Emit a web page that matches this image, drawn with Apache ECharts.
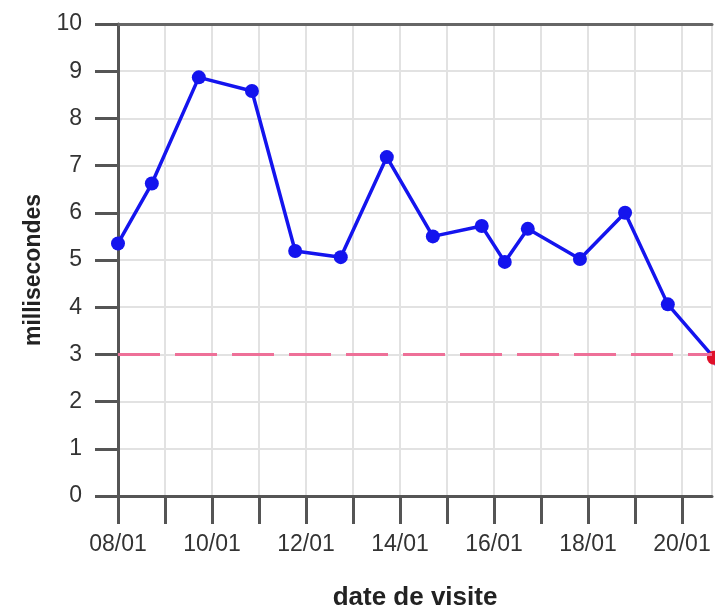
<!DOCTYPE html>
<html>
<head>
<meta charset="utf-8">
<script src="https://cdn.jsdelivr.net/npm/echarts@6/dist/echarts.min.js"></script>
<style>
html,body{margin:0;padding:0;background:#fff;overflow:hidden;}
#chart{width:715px;height:616px;}
</style>
</head>
<body>
<div id="chart"></div>
<script>
// Day labels (day offset 0 = 08/01)
const dayLabels = ["08/01","09/01","10/01","11/01","12/01","13/01","14/01","15/01","16/01","17/01","18/01","19/01","20/01","21/01","22/01"];
// Visit times as day offsets from 08/01
const visitDays = [0.0, 0.72, 1.72, 2.85, 3.77, 4.74, 5.72, 6.70, 7.74, 8.23, 8.72, 9.83, 10.79, 11.70, 12.68, 13.0];
// Response times in milliseconds
const msValues = [5.35, 6.62, 8.87, 8.58, 5.19, 5.06, 7.18, 5.5, 5.72, 4.96, 5.66, 5.02, 6.0, 4.06, 2.93, 2.0];
const threshold = 3;
const xMax = 12.64;

const chart = echarts.init(document.getElementById('chart'));
const font = '"Liberation Sans", Arial, sans-serif';
const data = visitDays.map((d, i) => ({
  value: [d, msValues[i]],
  itemStyle: { color: msValues[i] < threshold ? '#e0102a' : '#1414ee' }
}));

chart.setOption({
  animation: false,
  grid: { left: 118, top: 24, width: 594, height: 480, show: false },
  xAxis: [{
    type: 'value', min: 0, max: xMax, interval: 1,
    name: 'date de visite', nameLocation: 'middle', nameGap: 89,
    nameTextStyle: { fontFamily: font, fontSize: 26, fontWeight: 'bold', color: '#222' },
    axisLine: { show: true, onZero: false, lineStyle: { color: '#555', width: 3 } },
    axisTick: { show: true, length: 28, lineStyle: { color: '#555', width: 3 } },
    axisLabel: {
      fontFamily: font, fontSize: 23, color: '#333', margin: 37,
      showMaxLabel: false,
      formatter: function (v) {
        const i = Math.round(v);
        if (Math.abs(v - i) > 1e-6) return '';
        return i % 2 === 0 ? dayLabels[i] : '';
      }
    },
    splitLine: { show: true, lineStyle: { color: '#e2e2e2', width: 2 } }
  }, {
    type: 'value', position: 'top', min: 0, max: xMax,
    axisLine: { show: true, onZero: false, lineStyle: { color: '#666', width: 3 } },
    axisTick: { show: false }, axisLabel: { show: false }, splitLine: { show: false }
  }],
  yAxis: {
    type: 'value', min: 0, max: 10, interval: 1,
    name: 'millisecondes', nameLocation: 'middle', nameGap: 70, nameRotate: 90,
    nameTextStyle: { fontFamily: font, fontSize: 23, fontWeight: 'bold', color: '#222', padding: [0, 20, 0, 0] },
    axisLine: { show: true, lineStyle: { color: '#555', width: 3 } },
    axisTick: { show: true, length: 23, lineStyle: { color: '#555', width: 3 } },
    axisLabel: { fontFamily: font, fontSize: 23, color: '#333', margin: 36 },
    splitLine: { show: true, lineStyle: { color: '#e2e2e2', width: 2 } }
  },
  series: [{
    type: 'line',
    data: data,
    clip: false,
    symbol: 'circle',
    symbolSize: 14,
    lineStyle: { color: '#1414ee', width: 3.5 },
    markLine: {
      silent: true, symbol: 'none', label: { show: false },
      lineStyle: { color: '#ee7098', width: 3, type: [42, 15] },
      data: [{ yAxis: threshold }]
    },
    z: 3
  }]
});
</script>
</body>
</html>
